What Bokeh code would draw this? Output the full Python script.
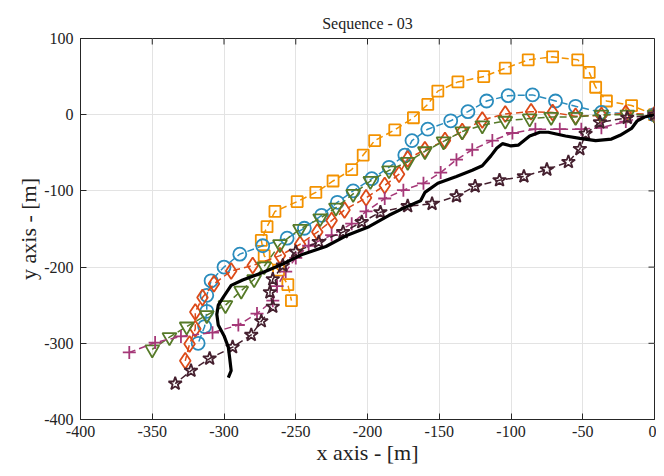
import math
from bokeh.plotting import figure
from bokeh.models import Range1d, FixedTicker
from bokeh.embed import file_html
from bokeh.resources import INLINE

# ---- data ----
orange_x = [0, -16, -33.5, -41, -45.5, -53.5, -71, -88, -104, -119, -137, -151, -158, -168, -181, -195, -203, -211, -224, -236, -249, -264.5, -270, -274, -272, -262, -255.5, -253]
orange_y = [0, 12, 18, 36, 55.5, 72, 76, 72, 61, 50, 43, 31, 13.5, -4, -20, -34, -53, -72, -87, -102, -114, -127, -147, -165, -185, -204, -223, -244]

blue_x = [0, -37, -55, -69, -85, -102, -117, -130, -142, -158, -169, -174, -185, -197, -210, -221, -232, -244, -256, -273, -289, -300, -309, -312, -312, -313.5, -318]
blue_y = [0, 3, 11, 18, 26, 25, 18, 4, -8, -19, -34, -53, -69, -84, -100, -115, -132, -149, -162, -172, -183, -200, -218, -237, -258, -278, -300]

red_x = [0, -20, -37, -55, -71, -86, -104, -120, -134, -146, -160, -172, -178, -188, -201, -216, -225, -235, -247, -261, -280, -295, -307, -315, -320, -320, -324, -327]
red_y = [0, 2, -1, -2, 3, 4, 1, -7, -22, -34, -46, -58, -78, -93, -109, -125, -139, -154, -170, -185, -198, -205, -222, -240, -259, -281, -301, -323]

green_x = [0, -19, -37, -55, -72, -87, -104, -120, -134, -147, -160, -172, -185, -198, -210, -222, -233, -247, -261, -272, -279, -288, -299, -312, -326, -338, -350]
green_y = [0, 0, 0, -3, -3, -5, -8, -14, -22, -35, -48, -62, -73, -87, -104, -122, -136, -150, -170, -199, -216, -231, -250, -263, -278, -292, -308]

magenta_x = [0, -20, -37, -51, -66, -83, -99, -113, -127, -138, -149, -161, -175, -188, -201, -211, -225, -241, -250, -257, -263, -266, -277, -290, -308, -330, -348, -366]
magenta_y = [0, -9, -17, -19, -19, -19, -24, -34, -46, -59, -76, -90, -99, -110, -127, -143, -158, -172, -188, -206, -225, -244, -261, -276, -286, -291, -299, -312]

star_x = [0, -19, -38, -48, -52, -60, -75, -91, -108, -125, -138, -155, -172, -191, -204, -217, -234, -250, -259, -266, -268, -266, -274, -281, -294, -310, -323, -334]
star_y = [0, -4, -10, -25, -45, -62, -72, -81, -86, -94, -107, -117, -120, -128, -141, -154, -167, -180, -198, -216, -233, -252, -271, -289, -305, -320, -336, -353]

gt_x = [0, -7, -12, -16, -24, -30, -41, -52, -62, -74, -80, -87, -95, -100, -106, -110, -114, -120, -127, -138, -151, -160, -163, -173, -185, -199, -215, -229, -245, -259, -273, -287, -295, -300, -304, -305, -304, -300, -297, -296, -295, -297]
gt_y = [0, -3, -8, -18, -27, -32, -34, -31, -28, -23, -23, -28, -40, -41, -38, -44, -54, -67, -73, -81, -90, -102, -113, -121, -132, -147, -159, -173, -183, -196, -207, -217, -224, -238, -250, -262, -276, -290, -305, -320, -336, -345]

x_ticks = [-400, -350, -300, -250, -200, -150, -100, -50, 0]
y_ticks = [-400, -300, -200, -100, 0, 100]

FONT = "Liberation Serif"
FRAME = "#262626"

p = figure(width=656, height=468, output_backend="svg", toolbar_location=None,
           x_range=Range1d(-400, 0), y_range=Range1d(-400, 100),
           title="Sequence - 03",
           min_border_left=80, min_border_right=2, min_border_top=38, min_border_bottom=49)

p.title.text_font = FONT
p.title.text_font_size = "16px"
p.title.text_font_style = "normal"
p.title.align = "center"
p.title.text_color = "#222222"
p.title.standoff = 13

p.outline_line_color = FRAME
p.outline_line_width = 1

for ax, ticks in ((p.xaxis[0], x_ticks), (p.yaxis[0], y_ticks)):
    ax.ticker = FixedTicker(ticks=ticks)
    ax.major_label_overrides = {t: str(t) for t in ticks}
    ax.major_tick_in = 6
    ax.major_tick_out = 0
    ax.minor_tick_line_color = None
    ax.major_label_text_font = FONT
    ax.major_label_text_font_size = "16px"
    ax.major_label_text_color = "#222222"
    ax.axis_line_color = FRAME
    ax.major_tick_line_color = FRAME
    ax.axis_label_text_font = FONT
    ax.axis_label_text_font_size = "22px"
    ax.axis_label_text_font_style = "normal"
    ax.axis_label_text_color = "#222222"

p.xaxis[0].axis_label = "x axis - [m]"
p.yaxis[0].axis_label = "y axis - [m]"
p.xaxis[0].axis_label_standoff = 0
p.xaxis[0].major_label_standoff = 6
p.yaxis[0].axis_label_standoff = 0
p.yaxis[0].major_label_standoff = 7

# box ticks on top and right edges (inward), from the tick arrays
p.ray(x=x_ticks, y=[y_ticks[-1]] * len(x_ticks), length=6, length_units="screen",
      angle=-math.pi / 2, line_color=FRAME, line_width=1)
p.ray(x=[x_ticks[-1]] * len(y_ticks), y=y_ticks, length=6, length_units="screen",
      angle=math.pi, line_color=FRAME, line_width=1)

p.xgrid.ticker = FixedTicker(ticks=x_ticks)
p.ygrid.ticker = FixedTicker(ticks=y_ticks)
p.grid.grid_line_color = "#e3e3e3"
p.grid.grid_line_width = 1

DASH = "7 4"
series = [
    (orange_x, orange_y, "#F39200", "square", 11),
    (blue_x, blue_y, "#2A8CBD", "circle", 13),
    (red_x, red_y, "#DC4A18", "diamond", 16),
    (green_x, green_y, "#567A28", "inverted_triangle", 14),
    (magenta_x, magenta_y, "#A53878", "cross", 13),
    (star_x, star_y, "#45202F", "star", 14),
]
for xs, ys, col, mk, sz in series:
    p.line(xs, ys, line_color=col, line_width=1.5, line_dash=DASH)
    p.scatter(xs, ys, marker=mk, size=sz, line_color=col, fill_color=None, line_width=1.8)

p.line(gt_x, gt_y, line_color="black", line_width=3.2)

open("out.html", "w").write(file_html(p, INLINE))
